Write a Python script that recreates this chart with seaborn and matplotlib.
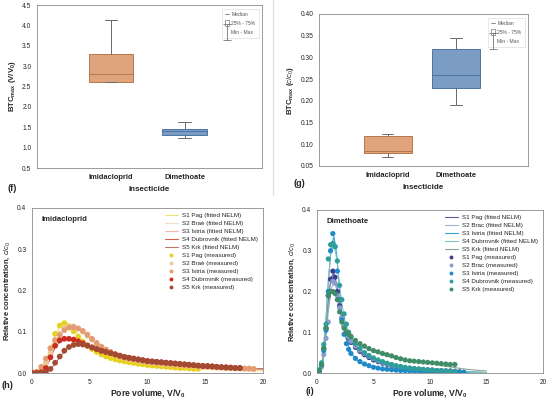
import numpy as np
import pandas as pd
import matplotlib
matplotlib.use("Agg")
import matplotlib.pyplot as plt
import seaborn as sns
from matplotlib.lines import Line2D
from matplotlib.patches import Patch
from matplotlib.path import Path

# ---- data -------------------------------------------------------------
insecticides = ["Imidacloprid", "Dimethoate"]
soils_h = ["S1 Pag", "S2 Braè", "S3 Istria", "S4 Dubrovnik", "S5 Krk"]
soils_i = ["S1 Pag", "S2 Brac", "S3 Istria", "S4 Dubrovnik", "S5 Krk"]

# BTC max for the five soils (panel f in V/V0, panel g in c/c0)
btc_vv0_imi = [2.60, 2.62, 2.80, 3.30, 4.13]
btc_vv0_dim = [1.23, 1.32, 1.41, 1.46, 1.62]
btc_cc0_imi = [0.070, 0.080, 0.085, 0.118, 0.124]
btc_cc0_dim = [0.190, 0.230, 0.260, 0.320, 0.344]

# panel h - imidacloprid measured breakthrough curves
x_h = [0.0, 0.4, 0.8, 1.2, 1.6, 2.0, 2.4, 2.8, 3.2, 3.6,
       4.0, 4.4, 4.8, 5.2, 5.6, 6.0, 6.4, 6.8, 7.2, 7.6,
       8.0, 8.4, 8.8, 9.2, 9.6, 10.0, 10.4, 10.8, 11.2, 11.6,
       12.0, 12.4, 12.8, 13.2, 13.6, 14.0, 14.4, 14.8, 15.2, 15.6,
       16.0, 16.4, 16.8, 17.2, 17.6, 18.0, 18.4, 18.8, 19.2]
h_s1 = [0.000, 0.002, 0.010, 0.025, 0.060, 0.095, 0.115, 0.121, 0.114, 0.101,
        0.088, 0.076, 0.066, 0.058, 0.051, 0.045, 0.040, 0.036, 0.033, 0.030,
        0.028, 0.026, 0.024, 0.022, 0.021, 0.019, 0.018, 0.017, 0.016, 0.015,
        0.014, 0.013, 0.012, 0.012, 0.011, 0.010, 0.010]
h_s2 = [0.000, 0.000, 0.008, 0.025, 0.050, 0.075, 0.095, 0.108, 0.113, 0.113,
        0.108, 0.100, 0.090, 0.080, 0.070, 0.062, 0.056, 0.051, 0.045, 0.040,
        0.036, 0.034, 0.032, 0.030, 0.028, 0.026, 0.025, 0.024, 0.023, 0.022,
        0.021, 0.020, 0.019, 0.018, 0.017, 0.017, 0.016, 0.015, 0.015, 0.014,
        0.013, 0.013, 0.012, 0.012, 0.011, 0.011, 0.010, 0.010, 0.009]
h_s3 = [0.000, 0.003, 0.015, 0.035, 0.060, 0.080, 0.092, 0.104, 0.110, 0.111,
        0.108, 0.102, 0.093, 0.083, 0.073, 0.064, 0.057, 0.051, 0.046, 0.041,
        0.037, 0.035, 0.033, 0.031, 0.029, 0.027, 0.026, 0.025, 0.024, 0.023,
        0.022, 0.021, 0.020, 0.019, 0.018, 0.018, 0.017, 0.016, 0.016, 0.015,
        0.014, 0.014, 0.013, 0.013, 0.012, 0.012, 0.011, 0.011, 0.010]
h_s4 = [0.000, 0.000, 0.002, 0.012, 0.038, 0.066, 0.079, 0.083, 0.083, 0.081,
        0.077, 0.072, 0.067, 0.062, 0.058, 0.054, 0.051, 0.048, 0.045, 0.042,
        0.039, 0.037, 0.035, 0.033, 0.031, 0.029, 0.028, 0.027, 0.026, 0.025,
        0.024, 0.023, 0.022, 0.021, 0.020, 0.019, 0.018, 0.017, 0.017, 0.016,
        0.015, 0.014, 0.014, 0.013, 0.012, 0.012]
h_s5 = [0.000, 0.000, 0.000, 0.003, 0.010, 0.025, 0.040, 0.054, 0.063, 0.068,
        0.070, 0.069, 0.066, 0.062, 0.058, 0.054, 0.051, 0.048, 0.045, 0.042,
        0.039, 0.037, 0.035, 0.033, 0.031, 0.029, 0.028, 0.027, 0.026, 0.025,
        0.024, 0.023, 0.022, 0.021, 0.020, 0.019, 0.018, 0.017, 0.016, 0.016,
        0.015, 0.014, 0.013, 0.013, 0.012, 0.012]

# panel h - fitted NELM curves
x_h_fit = [0, 0.5, 1, 1.5, 2, 2.5, 3, 3.5, 4, 4.5, 5, 6, 7, 8, 9, 10, 12, 14, 16, 18, 20]
h_fit_s1 = [0, 0.003, 0.015, 0.050, 0.092, 0.116, 0.120, 0.110, 0.092, 0.077, 0.065,
            0.048, 0.037, 0.029, 0.024, 0.020, 0.014, 0.011, 0.008, 0.006, 0.005]
h_fit_s2 = [0, 0.002, 0.010, 0.035, 0.070, 0.097, 0.110, 0.113, 0.108, 0.098, 0.085,
            0.063, 0.048, 0.038, 0.031, 0.026, 0.020, 0.016, 0.013, 0.010, 0.008]
h_fit_s3 = [0, 0.004, 0.018, 0.048, 0.078, 0.095, 0.107, 0.110, 0.106, 0.096, 0.085,
            0.064, 0.050, 0.040, 0.033, 0.027, 0.021, 0.017, 0.013, 0.011, 0.009]
h_fit_s4 = [0, 0.000, 0.005, 0.028, 0.062, 0.078, 0.083, 0.082, 0.078, 0.071, 0.064,
            0.054, 0.046, 0.039, 0.033, 0.029, 0.024, 0.019, 0.015, 0.012, 0.010]
h_fit_s5 = [0, 0.000, 0.002, 0.006, 0.022, 0.042, 0.058, 0.066, 0.070, 0.068, 0.064,
            0.055, 0.046, 0.039, 0.033, 0.029, 0.024, 0.019, 0.015, 0.012, 0.010]

# panel i - dimethoate measured breakthrough curves
x_i = [0.0, 0.2, 0.4, 0.6, 0.8, 1.0, 1.2, 1.4, 1.6, 1.8,
       2.0, 2.2, 2.4, 2.6, 2.8, 3.0, 3.4, 3.8, 4.2, 4.6,
       5.0, 5.4, 5.8, 6.2, 6.6, 7.0, 7.4, 7.8, 8.2, 8.6,
       9.0, 9.4, 9.8, 10.2, 10.6, 11.0, 11.4, 11.8, 12.2, 12.6, 13.0]
i_s1 = [0.000, 0.005, 0.020, 0.060, 0.110, 0.190, 0.230, 0.250, 0.235, 0.200,
        0.165, 0.135, 0.115, 0.098, 0.085, 0.075, 0.063, 0.053, 0.045, 0.038,
        0.032, 0.028, 0.024, 0.021, 0.018, 0.016, 0.014, 0.012, 0.011, 0.010,
        0.009, 0.008, 0.007, 0.007, 0.006, 0.005, 0.005, 0.004, 0.004, 0.003]
i_s2 = [0.000, 0.004, 0.015, 0.045, 0.085, 0.125, 0.200, 0.225, 0.220, 0.190,
        0.160, 0.135, 0.115, 0.100, 0.088, 0.078, 0.066, 0.056, 0.048, 0.041,
        0.035, 0.030, 0.026, 0.022, 0.019, 0.017, 0.015, 0.013, 0.012, 0.010,
        0.009, 0.008, 0.008, 0.007, 0.006, 0.006, 0.005, 0.005, 0.004]
i_s3 = [0.000, 0.005, 0.020, 0.055, 0.105, 0.200, 0.300, 0.342, 0.310, 0.250,
        0.180, 0.130, 0.095, 0.072, 0.058, 0.048, 0.036, 0.028, 0.022, 0.018,
        0.014, 0.012, 0.010, 0.009, 0.008, 0.007, 0.006, 0.006, 0.005, 0.005,
        0.004, 0.004, 0.004, 0.003, 0.003, 0.003, 0.003, 0.002, 0.002, 0.002, 0.002]
i_s4 = [0.000, 0.008, 0.025, 0.070, 0.120, 0.280, 0.315, 0.318, 0.310, 0.275,
        0.215, 0.180, 0.145, 0.120, 0.100, 0.088, 0.072, 0.060, 0.050, 0.043,
        0.037, 0.032, 0.028, 0.024, 0.021, 0.018, 0.016, 0.014, 0.012, 0.011,
        0.010, 0.009, 0.008, 0.007, 0.006, 0.006, 0.005, 0.005, 0.004]
i_s5 = [0.000, 0.006, 0.020, 0.060, 0.110, 0.190, 0.200, 0.200, 0.195, 0.180,
        0.150, 0.125, 0.110, 0.100, 0.095, 0.090, 0.080, 0.072, 0.066, 0.060,
        0.055, 0.052, 0.048, 0.045, 0.042, 0.038, 0.035, 0.032, 0.030, 0.029,
        0.028, 0.027, 0.026, 0.025, 0.024, 0.023, 0.022, 0.021, 0.021]

# panel i - fitted NELM curves
x_i_fit = [0, 0.25, 0.5, 0.75, 1, 1.25, 1.5, 1.75, 2, 2.25, 2.5, 3, 3.5, 4,
           5, 6, 7, 8, 9, 10, 11, 12, 13, 14, 15]
i_fit_s1 = [0, 0.005, 0.030, 0.090, 0.180, 0.235, 0.245, 0.215, 0.170, 0.135, 0.110, 0.078,
            0.058, 0.045, 0.030, 0.021, 0.016, 0.012, 0.009, 0.007, 0.005, 0.004, 0.003, 0.002, 0.001]
i_fit_s2 = [0, 0.004, 0.025, 0.075, 0.150, 0.205, 0.225, 0.205, 0.165, 0.135, 0.112, 0.080,
            0.060, 0.047, 0.031, 0.022, 0.016, 0.012, 0.009, 0.007, 0.005, 0.004, 0.003, 0.002, 0.001]
i_fit_s3 = [0, 0.006, 0.035, 0.110, 0.220, 0.310, 0.335, 0.290, 0.200, 0.130, 0.090, 0.050,
            0.032, 0.023, 0.014, 0.010, 0.007, 0.005, 0.004, 0.003, 0.002, 0.002, 0.001, 0.001, 0.000]
i_fit_s4 = [0, 0.006, 0.035, 0.110, 0.230, 0.300, 0.315, 0.280, 0.215, 0.160, 0.125, 0.085,
            0.062, 0.048, 0.032, 0.023, 0.017, 0.012, 0.009, 0.007, 0.005, 0.004, 0.003, 0.002, 0.001]
i_fit_s5 = [0, 0.005, 0.030, 0.090, 0.165, 0.200, 0.200, 0.185, 0.155, 0.125, 0.108, 0.088,
            0.075, 0.065, 0.052, 0.043, 0.036, 0.031, 0.027, 0.024, 0.018, 0.014, 0.010, 0.007, 0.005]

# colours
box_colors = ["#F0A06C", "#6F9CCF"]
box_edges = ["#B9764A", "#4C74A6"]
h_marker_colors = ["#E6D21E", "#EBCB9E", "#E39B74", "#CC2B1F", "#A34A33"]
h_line_colors = ["#EEE27A", "#F3DEC4", "#F1BBAA", "#D9604F", "#B7786A"]
i_marker_colors = ["#3B3E8C", "#8C9DCC", "#1E8AC8", "#2E9E9A", "#3F8C68"]
i_line_colors = ["#5A5C98", "#A0B0D8", "#3AA0D8", "#7CC6BE", "#8AA496"]

# ---- style ------------------------------------------------------------
sns.set_style("white")
plt.rcParams["font.family"] = ["Liberation Sans", "DejaVu Sans"]
plt.rcParams["mathtext.fontset"] = "custom"
plt.rcParams["mathtext.rm"] = "Liberation Sans"
plt.rcParams["mathtext.it"] = "Liberation Sans:italic"
plt.rcParams["mathtext.bf"] = "Liberation Sans:bold"

W, H = 550, 398
fig = plt.figure(figsize=(W / 100, H / 100), dpi=100)


def px_axes(left, top, right, bottom):
    return fig.add_axes([left / W, 1 - bottom / H, (right - left) / W, (bottom - top) / H])


ax_f = px_axes(37, 5, 262, 168)
ax_g = px_axes(319, 14, 528, 166)
ax_h = px_axes(32, 208, 263, 373)
ax_i = px_axes(317, 210, 543, 373)


def style_axes(ax):
    for sp in ax.spines.values():
        sp.set_color("#8a8a8a")
        sp.set_linewidth(0.6)
    ax.tick_params(axis="both", which="major", labelsize=4.8, length=2,
                   width=0.5, color="#777777", pad=2, direction="out")


def box_panel(ax, imi, dim, ylim, yticks, fmt, ylabel, width):
    df = pd.DataFrame({"insecticide": [insecticides[0]] * len(imi) + [insecticides[1]] * len(dim),
                       "value": imi + dim})
    sns.boxplot(data=df, x="insecticide", y="value", hue="insecticide",
                palette=box_colors, width=width, whis=(0, 100), linecolor="#6a6a6a",
                linewidth=0.7, legend=False, capwidths=0.17, ax=ax)
    for patch, ec in zip(ax.patches, box_edges):
        patch.set_edgecolor(ec)
    meds = [np.median(imi), np.median(dim)]
    for line in ax.lines:
        y = np.asarray(line.get_ydata(), dtype=float)
        if len(y) == 2 and y[0] == y[1]:
            for m, ec in zip(meds, box_edges):
                if np.isclose(y[0], m):
                    line.set_color(ec)
    ax.set_xlim(-1.0, 2.05)
    ax.set_ylim(*ylim)
    ax.set_yticks(yticks)
    ax.set_yticklabels([fmt.format(v) for v in yticks])
    ax.set_xlabel("Insecticide", fontsize=5.8, fontweight="bold", labelpad=4)
    ax.set_ylabel(ylabel, fontsize=5.6, fontweight="bold", labelpad=3)
    style_axes(ax)
    for t in ax.get_xticklabels():
        t.set_fontweight("bold")
        t.set_fontsize(5.4)
    # legend: median / quartile box / min-max
    ibeam = Path([(-0.5, -1), (0.5, -1), (0, -1), (0, 1), (-0.5, 1), (0.5, 1)],
                 [Path.MOVETO, Path.LINETO, Path.MOVETO, Path.LINETO, Path.MOVETO, Path.LINETO])
    handles = [Line2D([], [], color="#777777", lw=0.6),
               Patch(facecolor="white", edgecolor="#777777", lw=0.5),
               Line2D([], [], ls="none", marker=ibeam, markersize=11, color="#777777",
                      markeredgewidth=0.6)]
    leg = ax.legend(handles, ["Median", "25% - 75%", "Min - Max"], loc="upper right",
                    fontsize=3.6, frameon=True, fancybox=False, edgecolor="#dddddd",
                    handlelength=0.9, handleheight=1.3, handletextpad=0.4,
                    borderpad=0.6, labelspacing=0.7, borderaxespad=0.7)
    leg.get_frame().set_linewidth(0.6)
    for t in leg.get_texts():
        t.set_color("#555555")


box_panel(ax_f, btc_vv0_imi, btc_vv0_dim, (0.5, 4.5), [0.5, 1.0, 1.5, 2.0, 2.5, 3.0, 3.5, 4.0, 4.5],
          "{:.1f}", r"BTC$_{\mathbf{max}}$ (V/V$_\mathbf{0}$)", 0.6)
box_panel(ax_g, btc_cc0_imi, btc_cc0_dim, (0.05, 0.40),
          [0.05, 0.10, 0.15, 0.20, 0.25, 0.30, 0.35, 0.40],
          "{:.2f}", r"BTC$_{\mathbf{max}}$ ($\mathit{c/c}_0$)", 0.7)


def btc_panel(ax, x, measured, x_fit, fitted, names, mcolors, lcolors, title, msize):
    fit_rows, meas_rows = [], []
    for name, yf in zip(names, fitted):
        fit_rows += [(name, xv, yv) for xv, yv in zip(x_fit, yf)]
    for name, ym in zip(names, measured):
        meas_rows += [(name, xv, yv) for xv, yv in zip(x, ym)]
    fit_df = pd.DataFrame(fit_rows, columns=["soil", "x", "y"])
    meas_df = pd.DataFrame(meas_rows, columns=["soil", "x", "y"])
    sns.lineplot(data=fit_df, x="x", y="y", hue="soil", palette=lcolors, hue_order=names,
                 linewidth=0.8, legend=False, ax=ax, zorder=2)
    sns.scatterplot(data=meas_df, x="x", y="y", hue="soil", palette=mcolors, hue_order=names,
                    s=msize, linewidth=0, legend=False, ax=ax, zorder=3)
    ax.set_xlim(0, 20)
    ax.set_ylim(0, 0.4)
    ax.set_xticks([0, 5, 10, 15, 20])
    ax.set_yticks([0.0, 0.1, 0.2, 0.3, 0.4])
    ax.set_yticklabels(["0.0", "0.1", "0.2", "0.3", "0.4"])
    ax.set_xlabel(r"Pore volume, $\mathbf{V/V}_\mathbf{0}$", fontsize=6.2, fontweight="bold", labelpad=1)
    ax.set_ylabel(r"Relative concentration, $\mathit{c/c}_0$", fontsize=5.5, fontweight="bold", labelpad=4)
    style_axes(ax)
    ax.text(0.04, 0.95, title, transform=ax.transAxes, fontsize=5.6, fontweight="bold", va="top")
    handles, labels = [], []
    for name, lc in zip(names, lcolors):
        handles.append(Line2D([], [], color=lc, lw=0.8))
        labels.append(f"{name} (fitted NELM)")
    for name, mc in zip(names, mcolors):
        handles.append(Line2D([], [], ls="none", marker="o", markersize=2.8, color=mc, markeredgewidth=0))
        labels.append(f"{name} (measured)")
    ax.legend(handles, labels, loc="upper right", fontsize=4.5, frameon=False,
              handlelength=2.2, handletextpad=0.6, labelspacing=0.42, borderaxespad=0.4)


btc_panel(ax_h, x_h, [h_s1, h_s2, h_s3, h_s4, h_s5], x_h_fit,
          [h_fit_s1, h_fit_s2, h_fit_s3, h_fit_s4, h_fit_s5],
          soils_h, h_marker_colors, h_line_colors, "Imidacloprid", 17)
btc_panel(ax_i, x_i, [i_s1, i_s2, i_s3, i_s4, i_s5], x_i_fit,
          [i_fit_s1, i_fit_s2, i_fit_s3, i_fit_s4, i_fit_s5],
          soils_i, i_marker_colors, i_line_colors, "Dimethoate", 14)

# panel letters and divider
fig.text(8 / W, 1 - 188 / H, "(f)", fontsize=6.5, fontweight="bold", va="center")
fig.text(294 / W, 1 - 184 / H, "(g)", fontsize=6.5, fontweight="bold", va="center")
fig.text(2 / W, 1 - 385 / H, "(h)", fontsize=6.5, fontweight="bold", va="center")
fig.text(306 / W, 1 - 391 / H, "(i)", fontsize=6.5, fontweight="bold", va="center")
fig.add_artist(Line2D([273 / W, 273 / W], [1, 1 - 195 / H], transform=fig.transFigure,
                      color="#e2e2e2", lw=1.0))

fig.savefig("out.png", dpi=100)
